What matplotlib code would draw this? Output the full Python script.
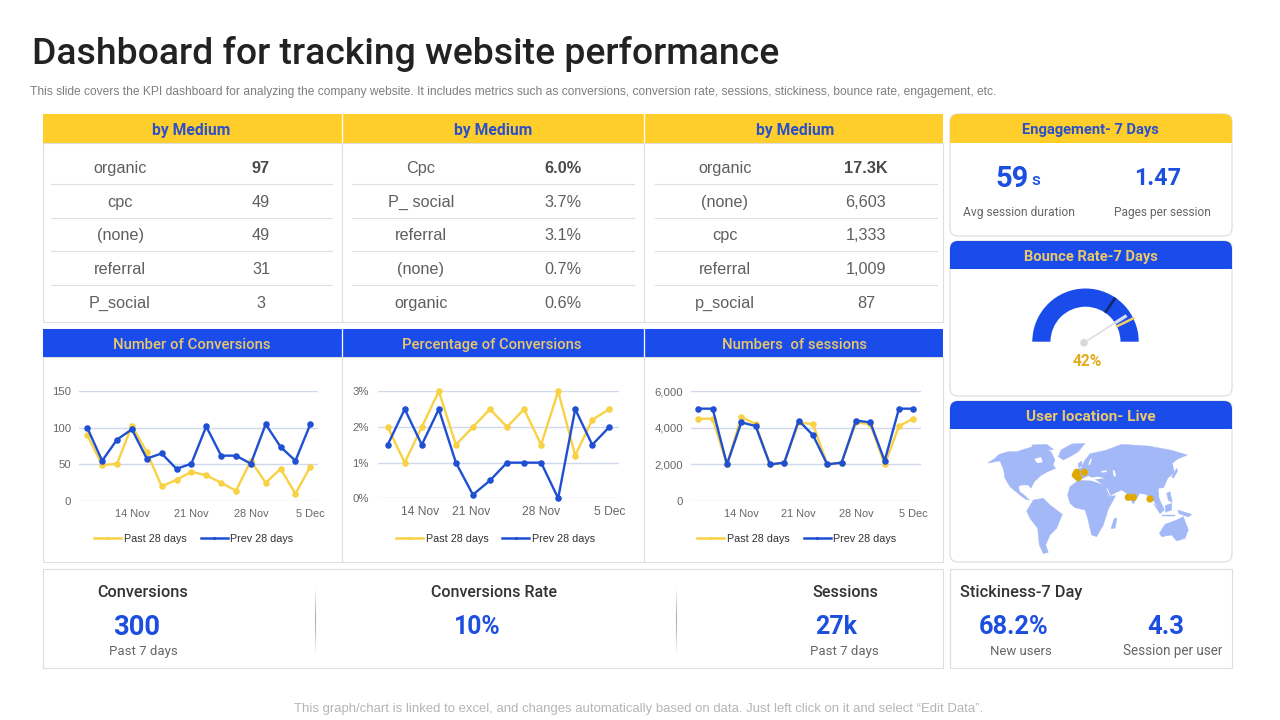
import numpy as np
import matplotlib
matplotlib.use("Agg")
import matplotlib.pyplot as plt
from matplotlib.patches import FancyBboxPatch, Rectangle, Wedge, Polygon, Circle

# ---------- data ----------
medium_labels_1 = ["organic", "cpc", "(none)", "referral", "P_social"]
medium_values_1 = ["97", "49", "49", "31", "3"]
medium_labels_2 = ["Cpc", "P_ social", "referral", "(none)", "organic"]
medium_values_2 = ["6.0%", "3.7%", "3.1%", "0.7%", "0.6%"]
medium_labels_3 = ["organic", "(none)", "cpc", "referral", "p_social"]
medium_values_3 = ["17.3K", "6,603", "1,333", "1,009", "87"]

conv_past = [90, 49, 51, 103, 67, 20, 29, 40, 35, 25, 14, 55, 25, 44, 10, 47]
conv_prev = [100, 55, 84, 98, 58, 65, 44, 51, 102, 62, 62, 51, 105, 74, 55, 105]
pct_past = [2, 1, 2, 3, 1.5, 2, 2.5, 2, 2.5, 1.5, 3, 1.2, 2.2, 2.5]
pct_prev = [1.5, 2.5, 1.5, 2.5, 1, 0.1, 0.5, 1, 1, 1, 0, 2.5, 1.5, 2]
sess_past = [4500, 4500, 2000, 4600, 4200, 2000, 2100, 4300, 4200, 2000, 2100, 4300, 4200, 2000, 4100, 4500]
sess_prev = [5050, 5050, 2000, 4300, 4100, 2000, 2100, 4400, 3600, 2000, 2100, 4400, 4300, 2200, 5050, 5050]
date_labels = ["14 Nov", "21 Nov", "28 Nov", "5 Dec"]
conv_ticks = [3, 7, 11, 15]
pct_ticks = [1.9, 4.9, 9, 13]
sess_ticks = [3, 7, 11, 15]
conv_yticks = [0, 50, 100, 150]
conv_ylabels = ["0", "50", "100", "150"]
pct_yticks = [0, 1, 2, 3]
pct_ylabels = ["0%", "1%", "2%", "3%"]
sess_yticks = [0, 2000, 4000, 6000]
sess_ylabels = ["0", "2,000", "4,000", "6,000"]
series_names = ["Past 28 days", "Prev 28 days"]

bounce_label = "42%"
gauge_dark_tick = 0.69
gauge_yellow_tick = 0.855
gauge_needle = 0.82

# ---------- style ----------
YEL = "#FFCE2B"
BLU = "#1A4BEB"
HEAD_ON_YEL = "#2B50C8"
HEAD_ON_BLU = "#E9C76B"
NUM = "#1C4FE0"
LINE_Y = "#F8D244"
LINE_B = "#1F4FD2"
GRID = "#CFD8EC"
BORDER = "#DEDEDE"
DIN = ["Roboto", "DejaVu Sans"]
BODY = ["Liberation Sans", "DejaVu Sans"]

fig = plt.figure(figsize=(12.8, 7.2), dpi=100, facecolor="white")
bg = fig.add_axes([0, 0, 1, 1])
bg.set_xlim(0, 1280)
bg.set_ylim(720, 0)
bg.axis("off")
renderer = fig.canvas.get_renderer()


def T(x, y, s, px, color="#444444", weight="normal", ha="center", family=DIN, width=None):
    t = bg.text(x, y, s, fontsize=px * 0.72, color=color, fontweight=weight, ha=ha,
                va="baseline", family=family, zorder=6)
    if width is not None:
        w = t.get_window_extent(renderer).width
        t.set_fontsize(t.get_fontsize() * width / w)
    t.set_y(y + 0.36 * t.get_fontsize() / 0.72)
    return t


def rect(x0, y0, x1, y1, fc="white", ec="none", lw=0.8, z=1):
    r = Rectangle((x0, y0), x1 - x0, y1 - y0, fc=fc, ec=ec, lw=lw, zorder=z)
    bg.add_patch(r)
    return r


def card(x0, y0, x1, y1, head_bottom=None, head_color=None):
    p = FancyBboxPatch((x0 + 8, y0 + 8), x1 - x0 - 16, y1 - y0 - 16,
                       boxstyle="round,pad=8,rounding_size=8",
                       fc="white", ec=BORDER, lw=0.9, zorder=1)
    bg.add_patch(p)
    if head_bottom is not None:
        h = rect(x0, y0, x1, head_bottom, fc=head_color, z=2)
        h.set_clip_path(p)


# ---------- title ----------
T(32, 50.5, "Dashboard for tracking website performance", 36, "#222222", "medium", "left", width=748)
T(30, 90.5, "This slide covers the KPI dashboard for analyzing the company website. It includes metrics such as "
            "conversions, conversion rate, sessions, stickiness, bounce rate, engagement, etc.",
  12, "#7F7F7F", ha="left", family=BODY, width=965)
T(639, 707.5, "This graph/chart is linked to excel, and changes automatically based on data. "
              "Just left click on it and select \u201cEdit Data\u201d.",
  12, "#B5B5B5", family=BODY, width=693)

# ---------- top tables ----------
rect(43, 143, 943, 322, ec=BORDER)
rect(43, 114, 943, 143, fc=YEL, z=2)
for x in (341.9, 643.9):
    bg.plot([x, x], [114, 143], color="white", lw=0.9, zorder=3)
    bg.plot([x, x], [143, 322], color=BORDER, lw=0.8, zorder=3)
table_cols = [
    (191, 120, 261, 51, 332, medium_labels_1, medium_values_1),
    (493, 421, 563, 352, 634, medium_labels_2, medium_values_2),
    (795, 725, 866, 655, 937, medium_labels_3, medium_values_3),
]
row_y = [167.5, 201, 234.5, 268, 302]
line_y = [183.5, 217.5, 250.5, 284.5]
for hx, lx, vx, x0, x1, labs, vals in table_cols:
    T(hx, 129.5, "by Medium", 15, HEAD_ON_YEL, "bold", width=78)
    for i, (y, a, b) in enumerate(zip(row_y, labs, vals)):
        T(lx, y, a, 16.3, "#5F5F5F", family=BODY)
        T(vx, y, b, 16.3, "#4A4A4A" if i == 0 else "#5F5F5F", "bold" if i == 0 else "normal", family=BODY)
    for y in line_y:
        bg.plot([x0, x1], [y, y], color=BORDER, lw=0.8, zorder=3)

# ---------- chart panels ----------
rect(43, 357, 943, 562, ec=BORDER)
rect(43, 329, 943, 357, fc=BLU, z=2)
for x in (341.9, 643.9):
    bg.plot([x, x], [329, 357], color="white", lw=0.9, zorder=3)
    bg.plot([x, x], [357, 562], color=BORDER, lw=0.8, zorder=3)
T(191.5, 343.5, "Number of Conversions", 15, HEAD_ON_BLU, "medium", width=157)
T(492, 343.5, "Percentage of Conversions", 15, HEAD_ON_BLU, "medium", width=178)
T(794.5, 343.5, "Numbers  of sessions", 15, HEAD_ON_BLU, "medium", width=145)


def line_chart(past, prev, gx0, gx1, y_top, y_bot, x_first, x_last, ymax, yticks, ylabels,
               xticks, legend_cx, tick_px, ypad_px):
    ax = fig.add_axes([gx0 / 1280, 1 - y_bot / 720, (gx1 - gx0) / 1280, (y_bot - y_top) / 720])
    ax.patch.set_alpha(0)
    step = (x_last - x_first) / (len(past) - 1)
    ax.set_xlim((gx0 - x_first) / step, (gx1 - x_first) / step)
    ax.set_ylim(0, ymax)
    xs = np.arange(len(past))
    ax.plot(xs, past, color=LINE_Y, lw=1.7, marker="o", ms=3.7, clip_on=False, zorder=3, label=series_names[0])
    ax.plot(xs, prev, color=LINE_B, lw=1.7, marker="o", ms=3.7, clip_on=False, zorder=4, label=series_names[1])
    for s in ax.spines.values():
        s.set_visible(False)
    ax.set_yticks(yticks, ylabels)
    ax.set_xticks(xticks, date_labels)
    ax.grid(axis="y", color=GRID, lw=1)
    ax.set_axisbelow(True)
    ax.tick_params(axis="y", length=0, pad=ypad_px * 0.72, labelsize=11 * 0.72 * 1.03, labelcolor="#666666")
    ax.tick_params(axis="x", length=0, pad=5.7, labelsize=tick_px * 0.72, labelcolor="#666666")
    for lab in ax.get_xticklabels() + ax.get_yticklabels():
        lab.set_family(BODY)
    leg = ax.legend(loc="center", bbox_to_anchor=(legend_cx / 1280, 1 - 538.7 / 720),
                    bbox_transform=fig.transFigure, ncol=2, frameon=False, numpoints=1,
                    prop={"family": BODY, "size": 7.75}, handlelength=2.5, handletextpad=0.25,
                    columnspacing=1.3, labelcolor="#333333", markerscale=0.35)
    for h in leg.get_lines():
        h.set_linewidth(1.8)
    return ax


line_chart(conv_past, conv_prev, 79, 318, 391.3, 501, 87.3, 310.3, 150, conv_yticks, conv_ylabels,
           conv_ticks, 194, 11, 8)
line_chart(pct_past, pct_prev, 378, 619, 391.3, 498.3, 387.7, 609.3, 3, pct_yticks, pct_ylabels,
           pct_ticks, 495.5, 12, 9)
line_chart(sess_past, sess_prev, 691, 921, 391.3, 501, 698.3, 913.3, 6000, sess_yticks, sess_ylabels,
           sess_ticks, 797, 11, 8)

# ---------- engagement card ----------
card(950, 114, 1232, 236, 143, YEL)
T(1090.5, 128.5, "Engagement- 7 Days", 15, HEAD_ON_YEL, "bold", width=137)
T(1029, 177, "59", 29, NUM, "bold", "right")
T(1031, 179, "s", 19, NUM, "medium", "left", width=9)
T(1158, 177, "1.47", 29, NUM, "bold", width=47)
T(1019, 212, "Avg session duration", 11, "#666666", width=113)
T(1162, 212, "Pages per session", 11, "#666666", width=97)

# ---------- bounce rate gauge ----------
card(950, 241, 1232, 396, 269, BLU)
T(1090.5, 255.5, "Bounce Rate-7 Days", 15, HEAD_ON_BLU, "bold", width=134)
gx, gy, ro, ri = 1085.5, 341.7, 53.2, 35
# the y axis of the canvas points down, so angles are mirrored
bg.add_patch(Wedge((gx, gy), ro, 180, 360, width=ro - ri, fc=BLU, ec="none", zorder=3))


def gauge_xy(frac, r):
    a = np.pi * (1 - frac)
    return gx + r * np.cos(a), gy - r * np.sin(a)


for frac, col, lw, r0, r1 in [(gauge_dark_tick, "#10296F", 2.0, ri, ro),
                              (gauge_yellow_tick, "#F2CF63", 1.8, ri - 1, ro + 1)]:
    p0, p1 = gauge_xy(frac, r0), gauge_xy(frac, r1)
    bg.plot([p0[0], p1[0]], [p0[1], p1[1]], color=col, lw=lw, zorder=4, solid_capstyle="butt")
n0, n1, n2 = gauge_xy(gauge_needle, 2), gauge_xy(gauge_needle, ri), gauge_xy(gauge_needle, ri + 13.7)
bg.plot([n0[0], n1[0]], [n0[1], n1[1]], color="#D9D9D9", lw=1.0, zorder=5)
bg.plot([n1[0], n2[0]], [n1[1], n2[1]], color="#D5DBF2", lw=2.4, zorder=5, solid_capstyle="butt")
bg.add_patch(Circle((1084, 342.7), 3.8, fc="#D9D9D9", ec="none", zorder=5))
T(1087, 360, bounce_label, 15.5, "#E3AC1F", "bold")

# ---------- user location map ----------
card(950, 401, 1232, 562, 429, BLU)
T(1090.5, 415.5, "User location- Live", 15, HEAD_ON_BLU, "bold", width=130)
# decorative land outlines, in pixels of a 230x125 crop (scaled 3x) placed at (975, 435)
land_shapes = [
    [(38, 84), (60, 70), (72, 58), (100, 50), (125, 50), (150, 42), (170, 36), (190, 38), (210, 42), (228, 50),
     (240, 75), (234, 90), (242, 100), (218, 110), (197, 122), (178, 140), (168, 160), (160, 150), (140, 150),
     (130, 155), (134, 170), (150, 182), (164, 196), (150, 192), (125, 172), (105, 155), (90, 130), (86, 105), (75, 78)],
    [(250, 65), (258, 45), (290, 27), (330, 25), (310, 50), (285, 65), (265, 75)],
    [(170, 30), (215, 28), (236, 44), (205, 46), (175, 42)],
    [(155, 228), (175, 195), (205, 190), (225, 210), (262, 238), (245, 280), (225, 300), (212, 330), (220, 352),
     (205, 356), (193, 330), (188, 280), (165, 250)],
    [(278, 180), (285, 155), (310, 136), (350, 138), (385, 150), (398, 185), (422, 182), (400, 222), (385, 270),
     (365, 305), (350, 300), (338, 250), (330, 225), (300, 218), (285, 205)],
    [(298, 132), (298, 106), (320, 98), (328, 78), (345, 56), (392, 46), (440, 28), (520, 33), (590, 46), (637, 60),
     (608, 72), (592, 85), (598, 112), (578, 130), (566, 158), (550, 160), (552, 190), (568, 225), (558, 234),
     (532, 190), (512, 178), (494, 175), (475, 207), (455, 175), (440, 165), (424, 172), (400, 186), (385, 150),
     (360, 132), (340, 122), (310, 136)],
    [(553, 295), (570, 268), (605, 255), (625, 245), (640, 285), (630, 310), (605, 318), (590, 300), (560, 305)],
    [(408, 280), (418, 250), (426, 250), (420, 280)],
    [(310, 85), (320, 78), (322, 92), (310, 98)],
    [(278, 52), (295, 48), (295, 56), (282, 58)],
    [(590, 125), (605, 100), (608, 108), (595, 130)],
    [(535, 205), (560, 230), (555, 236)],
    [(570, 212), (590, 205), (590, 225), (572, 232)],
    [(608, 225), (650, 238), (640, 246), (612, 236)],
    [(575, 175), (585, 170), (592, 202), (580, 196)],
    [(560, 240), (600, 240), (600, 244), (560, 244)],
]
water_shapes = [
    [(178, 72), (198, 66), (203, 82), (186, 84)],
    [(325, 131), (370, 125), (388, 130), (350, 134)],
    [(378, 108), (395, 106), (395, 111), (380, 113)],
    [(413, 106), (419, 106), (423, 124), (416, 124)],
    [(394, 160), (397, 160), (407, 182), (404, 182)],
    [(346, 72), (351, 70), (345, 90), (340, 88)],
    [(135, 165), (168, 160), (168, 163), (140, 170)],
]
user_dots = [(305, 112), (328, 112), (310, 128), (301, 120), (460, 187), (475, 187), (525, 192)]


def map_px(points):
    return [(975 + x / 3, 435 + y / 3) for x, y in points]


for shape in land_shapes:
    bg.add_patch(Polygon(map_px(shape), closed=True, fc="#A3B8F6", ec="#A3B8F6", lw=0.3, zorder=3))
for shape in water_shapes:
    bg.add_patch(Polygon(map_px(shape), closed=True, fc="white", ec="none", zorder=4))
for x, y in map_px(user_dots):
    bg.add_patch(Circle((x, y), 3.6, fc="#E0A800", ec="none", zorder=5))

# ---------- bottom KPIs ----------
rect(43, 569, 943, 668, ec=BORDER)
for x in (314.5, 675.5):
    ys = np.linspace(576, 664, 45)
    for a, b in zip(ys[:-1], ys[1:]):
        m = (a + b) / 2
        bg.plot([x, x], [a, b], color="#A8A8A8", lw=0.8, zorder=3,
                alpha=float(np.clip(np.sin(np.pi * (m - 576) / 88), 0, 1)) ** 3, solid_capstyle="butt")
T(143, 591, "Conversions", 15, "#333333", "medium", width=90)
T(137, 625, "300", 29, NUM, "bold", width=47)
T(143.5, 650, "Past 7 days", 13, "#666666", width=69)
T(494, 591, "Conversions Rate", 15, "#333333", "medium", width=125)
T(477, 625, "10%", 29, NUM, "bold", width=47)
T(845, 591, "Sessions", 15, "#333333", "medium", width=65)
T(836, 625, "27k", 29, NUM, "bold", width=42)
T(844.5, 650, "Past 7 days", 13, "#666666", width=69)

rect(950, 569, 1232, 668, ec=BORDER)
T(960, 591, "Stickiness-7 Day", 15, "#333333", "medium", "left", width=122)
T(1014, 625, "68.2%", 29, NUM, "bold", width=70)
T(1166, 625, "4.3", 29, NUM, "bold", width=37)
T(1020.5, 650, "New users", 13, "#666666", width=62)
T(1172.5, 650, "Session per user", 13, "#666666", width=100)

fig.savefig("out.png", dpi=100)
